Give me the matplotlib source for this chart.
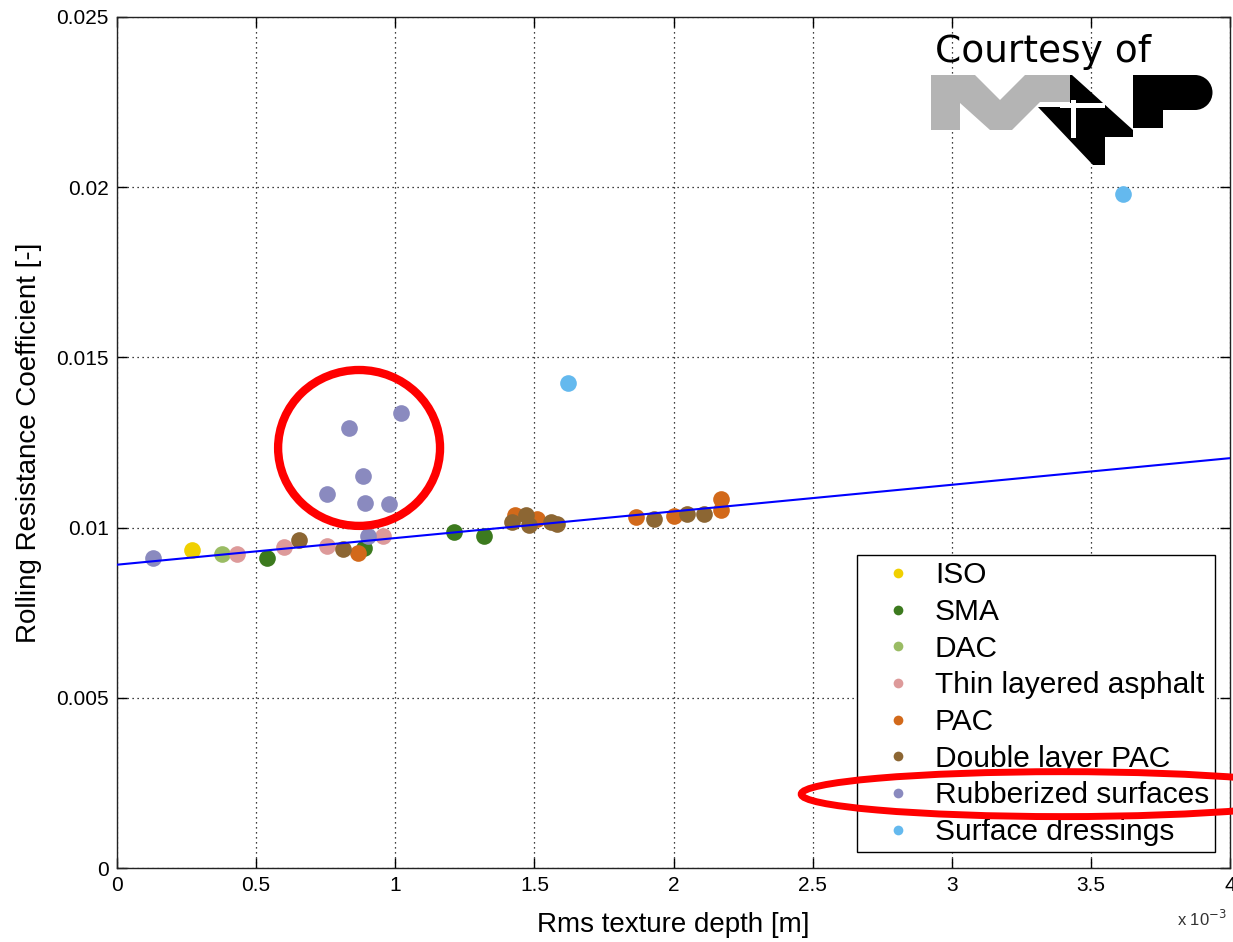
import matplotlib
matplotlib.use("Agg")
import matplotlib.pyplot as plt
from matplotlib.lines import Line2D
from matplotlib.patches import Ellipse, Polygon, Rectangle
from matplotlib.transforms import Affine2D

# rms texture depth in units of 1e-3 m, rolling resistance coefficient [-]
iso_x = [0.27]
iso_y = [0.00935]
sma_x = [0.54, 0.888, 1.21, 1.32]
sma_y = [0.00912, 0.00941, 0.00988, 0.00976]
dac_x = [0.377]
dac_y = [0.00921]
thin_x = [0.43, 0.60, 0.755, 0.956]
thin_y = [0.00921, 0.00944, 0.00947, 0.00974]
pac_x = [0.866, 1.43, 1.51, 1.865, 2.0, 2.17, 2.17]
pac_y = [0.00926, 0.01038, 0.01024, 0.0103, 0.01035, 0.01053, 0.01085]
dpac_x = [0.654, 0.812, 1.47, 1.42, 1.48, 1.56, 1.58, 1.93, 2.05, 2.11]
dpac_y = [0.00965, 0.00938, 0.01038, 0.01015, 0.01009, 0.01015, 0.0101, 0.01024, 0.01041, 0.01041]
rub_x = [0.13, 0.756, 0.834, 0.885, 0.892, 0.978, 1.02, 0.903]
rub_y = [0.00912, 0.0110, 0.01294, 0.01153, 0.01071, 0.01068, 0.01338, 0.00974]
sd_x = [1.62, 3.615]
sd_y = [0.01424, 0.01979]

# linear fit endpoints
fit_x = [0, 4]
fit_y = [0.00891, 0.01204]

labels = ["ISO", "SMA", "DAC", "Thin layered asphalt", "PAC",
          "Double layer PAC", "Rubberized surfaces", "Surface dressings"]
colors = ["#f0d000", "#3c7a1e", "#9abc64", "#dd9a9a", "#d2691a",
          "#8c6633", "#8a8abf", "#64b9ee"]
series = [(iso_x, iso_y), (sma_x, sma_y), (dac_x, dac_y), (thin_x, thin_y),
          (pac_x, pac_y), (dpac_x, dpac_y), (rub_x, rub_y), (sd_x, sd_y)]

W, H = 1233, 942
fig = plt.figure(figsize=(W / 100, H / 100), dpi=100)
ax = fig.add_axes([117 / W, 1 - 868 / H, 1113 / W, 851 / H])

tickfont = ["Liberation Sans Narrow", "Liberation Sans", "DejaVu Sans"]
labfont = ["Liberation Sans", "DejaVu Sans"]

for (xs, ys), c in zip(series, colors):
    ax.plot(xs, ys, "o", color=c, ms=12, mew=0, zorder=3)

ax.plot(fit_x, fit_y, color="#0000ff", lw=1.5, zorder=4)

ax.set_xlim(0, 4)
ax.set_ylim(0, 0.025)
ax.set_xticks([0, 0.5, 1, 1.5, 2, 2.5, 3, 3.5, 4])
ax.set_yticks([0, 0.005, 0.01, 0.015, 0.02, 0.025])
ax.set_xticklabels(["0", "0.5", "1", "1.5", "2", "2.5", "3", "3.5", "4"],
                   family=tickfont, fontsize=15)
ax.set_yticklabels(["0", "0.005", "0.01", "0.015", "0.02", "0.025"],
                   family=tickfont, fontsize=15)
ax.tick_params(direction="in", top=True, right=True, length=7, width=1, pad=6)
ax.grid(True, color="k", ls=(0, (1, 3)), lw=0.9)
for s in ax.spines.values():
    s.set_color("#222222")
    s.set_linewidth(1)

ax.set_xlabel("Rms texture depth [m]", family=labfont, fontsize=20, labelpad=12)
ax.set_ylabel("Rolling Resistance Coefficient [-]", family=labfont, fontsize=20, labelpad=10)
fig.text(1177 / W, 1 - 926 / H, r"x 10$^{-3}$", family=tickfont, fontsize=12, color="#333333")

handles = [Line2D([], [], marker="o", ls="none", color=c, ms=7, mew=0) for c in colors]
leg = ax.legend(handles, labels, loc="lower right", bbox_to_anchor=(0.9865, 0.0188),
                borderaxespad=0, prop={"family": labfont, "size": 21.5},
                fancybox=False, framealpha=1, edgecolor="k", labelspacing=0.29,
                handlelength=2.36, handletextpad=0.06, borderpad=0.2)
leg.get_frame().set_linewidth(1)

# red highlight ellipses
ax.add_patch(Ellipse((0.870, 0.01234), 0.582, 0.00458, fill=False,
                     ec="#ff0000", lw=6, zorder=10, clip_on=False))
ax.add_patch(Ellipse((3.396, 0.00217), 1.874, 0.00132, fill=False,
                     ec="#ff0000", lw=5, zorder=10, clip_on=False))

# logo in pixel coordinates (origin top-left)
pix = Affine2D().scale(1 / 100, -1 / 100).translate(0, H / 100) + fig.dpi_scale_trans
fig.text(935 / W, 1 - 62 / H, "Courtesy of", fontsize=27, family="DejaVu Sans", color="k")
gray = [(931, 75), (975, 75), (1000, 100), (1025, 75), (1070, 75), (1070, 102),
        (1040, 102), (1012, 130), (990, 130), (960, 103), (960, 130), (931, 130)]
fig.add_artist(Polygon(gray, closed=True, fc="#b4b4b4", ec="none", transform=pix))
black = [(1072, 75), (1133, 130), (1133, 137), (1105, 137), (1105, 165),
         (1093, 165), (1038, 107), (1070, 107), (1070, 75)]
fig.add_artist(Polygon(black, closed=True, fc="k", ec="none", transform=pix))
fig.add_artist(Rectangle((1133, 75), 30, 53, fc="k", ec="none", transform=pix))
fig.add_artist(Rectangle((1163, 75), 32, 35, fc="k", ec="none", transform=pix))
fig.add_artist(Ellipse((1195, 92.5), 35, 35, fc="k", ec="none", transform=pix))
fig.add_artist(Rectangle((1071, 100), 5, 38, fc="w", ec="none", transform=pix))
fig.add_artist(Rectangle((1060, 103), 45, 5, fc="w", ec="none", transform=pix))

fig.savefig("out.png", dpi=100)
